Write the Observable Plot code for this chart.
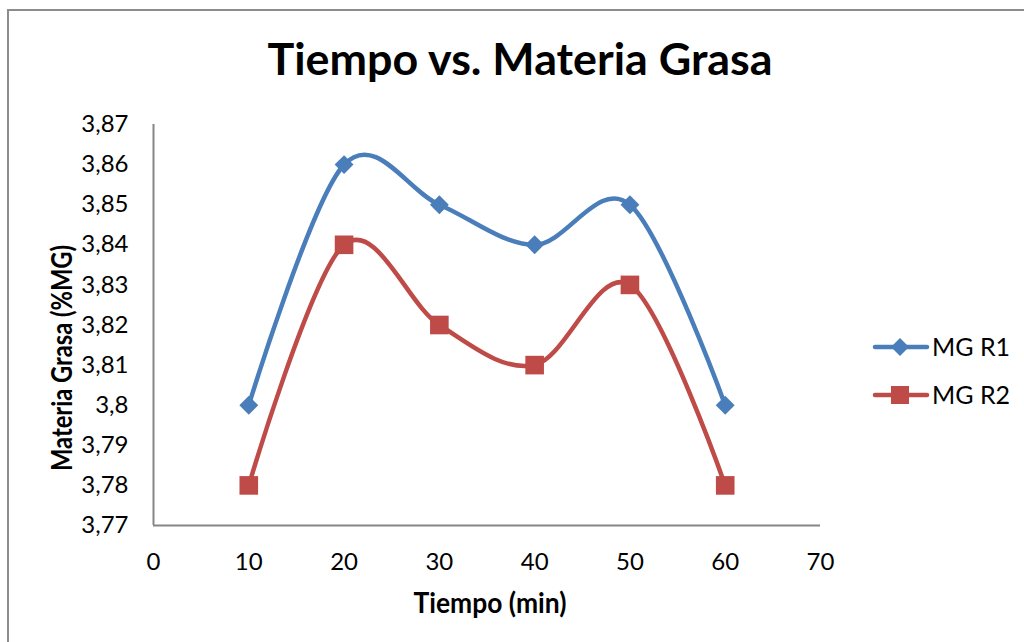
<!DOCTYPE html>
<html>
<head>
<meta charset="utf-8">
<script src="https://cdn.jsdelivr.net/npm/d3@7"></script>
<script src="https://cdn.jsdelivr.net/npm/@observablehq/plot@0.6"></script>
<style>
  html, body { margin: 0; padding: 0; background: #fff; }
  #wrap { position: relative; width: 1024px; height: 642px; overflow: hidden; background: #fff; }
  #frame { position: absolute; left: 7px; top: 9px; width: 1100px; height: 700px;
           border-left: 2px solid #8c8c8c; border-top: 2px solid #8c8c8c; box-sizing: border-box; }
  #chart { position: absolute; left: 0; top: 0; }
  #overlay { position: absolute; left: 0; top: 0; pointer-events: none; }
</style>
</head>
<body>
<div id="wrap">
  <div id="frame"></div>
  <div id="chart"></div>
  <svg id="overlay" width="1024" height="642" xmlns="http://www.w3.org/2000/svg"></svg>
</div>
<script>
// ---- data ----
const tiempo = [10, 20, 30, 40, 50, 60];
const mgR1 = [3.80, 3.86, 3.85, 3.84, 3.85, 3.80];
const mgR2 = [3.78, 3.84, 3.82, 3.81, 3.83, 3.78];
const seriesNames = ["MG R1", "MG R2"];
const seriesColors = ["#4a7ebb", "#be4b48"];
const xTicks = [0, 10, 20, 30, 40, 50, 60, 70];
const yTicks = [3.77, 3.78, 3.79, 3.80, 3.81, 3.82, 3.83, 3.84, 3.85, 3.86, 3.87];
const yTickLabels = ["3,77", "3,78", "3,79", "3,8", "3,81", "3,82", "3,83", "3,84", "3,85", "3,86", "3,87"];
const titleText = "Tiempo vs. Materia Grasa";
const xTitle = "Tiempo (min)";
const yTitle = "Materia Grasa (%MG)";

const rows1 = tiempo.map((t, i) => ({t, v: mgR1[i], s: seriesNames[0]}));
const rows2 = tiempo.map((t, i) => ({t, v: mgR2[i], s: seriesNames[1]}));

const chart = Plot.plot({
  width: 1024,
  height: 642,
  marginLeft: 153,
  marginRight: 204,
  marginTop: 124,
  marginBottom: 117,
  style: { fontFamily: "Lato, sans-serif", fontSize: "24px", color: "#000", background: "transparent", overflow: "visible" },
  x: { domain: [0, 70], ticks: xTicks, tickSize: 0, tickPadding: 27, label: null },
  y: { domain: [3.77, 3.87], ticks: yTicks, tickSize: 0, tickPadding: 25, label: null,
       tickFormat: d => yTickLabels[yTicks.findIndex(v => Math.abs(v - d) < 1e-9)] },
  marks: [
    Plot.ruleX([0], { stroke: "#868686", strokeWidth: 2 }),
    Plot.ruleY([3.77], { stroke: "#868686", strokeWidth: 2 }),
    Plot.line(rows1, { x: "t", y: "v", stroke: seriesColors[0], strokeWidth: 4.5, curve: "cardinal" }),
    Plot.line(rows2, { x: "t", y: "v", stroke: seriesColors[1], strokeWidth: 4.5, curve: "cardinal" }),
    Plot.dot(rows1, { x: "t", y: "v", symbol: "diamond2", r: 8.5, fill: seriesColors[0], stroke: null }),
    Plot.dot(rows2, { x: "t", y: "v", symbol: "square", r: 10.5, fill: seriesColors[1], stroke: null })
  ]
});
document.getElementById("chart").appendChild(chart);

// ---- overlay: titles and legend ----
const ov = d3.select("#overlay");
ov.append("text").attr("x", 520).attr("y", 75).attr("text-anchor", "middle")
  .attr("font-family", "Lato, sans-serif").attr("font-weight", "bold").attr("font-size", 44)
  .attr("textLength", 505).attr("lengthAdjust", "spacingAndGlyphs").text(titleText);
ov.append("text").attr("x", 490).attr("y", 613).attr("text-anchor", "middle")
  .attr("font-family", "Lato, sans-serif").attr("font-weight", "bold").attr("font-size", 28)
  .attr("textLength", 153).attr("lengthAdjust", "spacingAndGlyphs").text(xTitle);
ov.append("text").attr("transform", "translate(72,358) rotate(-90)").attr("text-anchor", "middle")
  .attr("font-family", "Lato, sans-serif").attr("font-weight", "bold").attr("font-size", 28)
  .attr("textLength", 226).attr("lengthAdjust", "spacingAndGlyphs").text(yTitle);

const legY = [347, 395];
seriesNames.forEach((name, i) => {
  const g = ov.append("g");
  g.append("line").attr("x1", 875).attr("x2", 927).attr("y1", legY[i]).attr("y2", legY[i])
    .attr("stroke", seriesColors[i]).attr("stroke-width", 4.5).attr("stroke-linecap", "round");
  if (i === 0) {
    g.append("path").attr("d", `M900,${legY[i]-9} L909,${legY[i]} L900,${legY[i]+9} L891,${legY[i]} Z`).attr("fill", seriesColors[i]);
  } else {
    g.append("rect").attr("x", 891).attr("y", legY[i] - 9).attr("width", 18).attr("height", 18).attr("fill", seriesColors[i]);
  }
  g.append("text").attr("x", 932).attr("y", legY[i] + 9).attr("font-family", "Lato, sans-serif")
    .attr("font-size", 25).attr("fill", "#000").text(name);
});
</script>
</body>
</html>
